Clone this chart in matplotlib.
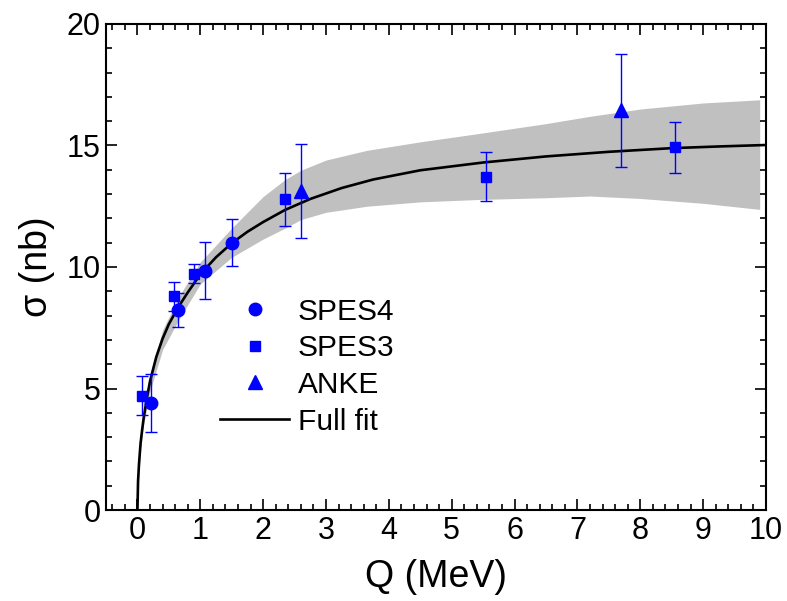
import matplotlib
matplotlib.use("Agg")
import matplotlib.pyplot as plt
from matplotlib.lines import Line2D
from matplotlib.ticker import MultipleLocator

plt.rcParams['font.family'] = ['Liberation Sans', 'DejaVu Sans']

# SPES4 (circles)
spes4_q = [0.21, 0.64, 1.07, 1.51]
spes4_s = [4.40, 8.25, 9.85, 11.00]
spes4_e = [1.20, 0.70, 1.17, 0.96]

# SPES3 (squares)
spes3_q = [0.08, 0.58, 0.90, 2.35, 5.54, 8.56]
spes3_s = [4.71, 8.80, 9.73, 12.78, 13.72, 14.92]
spes3_e = [0.80, 0.60, 0.40, 1.08, 1.00, 1.05]

# ANKE (triangles)
anke_q = [2.60, 7.69]
anke_s = [13.13, 16.45]
anke_e = [1.92, 2.32]

# Full fit curve
fit_q = [0, 0.01, 0.025, 0.05, 0.075, 0.1, 0.15, 0.2, 0.3, 0.4, 0.5, 0.65, 0.8,
         1.0, 1.25, 1.5, 1.75, 2.0, 2.35, 2.75, 3.25, 3.75, 4.5, 5.5, 6.5, 7.5,
         8.5, 9.25, 10.0]
fit_s = [0, 1.2, 1.9, 2.75, 3.3, 3.8, 4.6, 5.3, 6.3, 7.05, 7.65, 8.35, 8.95,
         9.7, 10.4, 10.98, 11.45, 11.85, 12.35, 12.8, 13.25, 13.6, 13.98, 14.3,
         14.55, 14.74, 14.89, 14.96, 15.02]

# Uncertainty band
band_q = [0, 0.02, 0.05, 0.1, 0.2, 0.4, 0.65, 1.0, 1.5, 2.0, 2.35, 2.6, 3.0,
          3.65, 4.5, 5.45, 6.5, 7.2, 8.0, 9.0, 9.9]
band_hi = [0, 1.7, 2.9, 4.05, 5.55, 7.4, 8.75, 10.2, 11.6, 12.9, 13.6, 13.98,
           14.4, 14.8, 15.15, 15.5, 15.9, 16.2, 16.5, 16.75, 16.88]
band_lo = [0, 1.3, 2.5, 3.55, 4.9, 6.6, 7.8, 9.3, 10.4, 11.15, 11.6, 11.95,
           12.25, 12.5, 12.68, 12.78, 12.85, 12.92, 12.82, 12.62, 12.37]

blue = '#0000ff'

fig = plt.figure(figsize=(7.87, 6.01), dpi=100)
ax = fig.add_axes([0.1347, 0.1514, 0.8386, 0.8087])

ax.fill_between(band_q, band_lo, band_hi, color='#c0c0c0', lw=0, zorder=1)
ax.plot(fit_q, fit_s, color='black', lw=1.9, zorder=3)

ekw = dict(ecolor=blue, elinewidth=1.0, capsize=4, capthick=1.0, ls='none',
           color=blue, zorder=4)
ax.errorbar(spes3_q, spes3_s, yerr=spes3_e, marker='s', ms=7.5, **ekw)
ax.errorbar(spes4_q, spes4_s, yerr=spes4_e, marker='o', ms=9, **ekw)
ax.errorbar(anke_q, anke_s, yerr=anke_e, marker='^', ms=9.5, **ekw)

ax.set_xlim(-0.5, 10)
ax.set_ylim(0, 20)
ax.xaxis.set_major_locator(MultipleLocator(1))
ax.xaxis.set_minor_locator(MultipleLocator(0.2))
ax.yaxis.set_major_locator(MultipleLocator(5))
ax.yaxis.set_minor_locator(MultipleLocator(1))
ax.tick_params(which='both', direction='in', top=True, right=True,
               labelsize=22, width=1.2)
ax.tick_params(axis='x', which='major', pad=4)
ax.tick_params(axis='y', which='major', pad=4)
ax.tick_params(which='major', length=8)
ax.tick_params(which='minor', length=4.5)
for s in ax.spines.values():
    s.set_linewidth(1.5)

ax.set_xlabel('Q (MeV)', fontsize=27, labelpad=10)
ax.set_ylabel('σ (nb)', fontsize=27, labelpad=8)

handles = [
    Line2D([], [], color=blue, marker='o', ls='none', ms=9),
    Line2D([], [], color=blue, marker='s', ls='none', ms=7.5),
    Line2D([], [], color=blue, marker='^', ls='none', ms=9.5),
    Line2D([], [], color='black', lw=1.9),
]
labels = ['SPES4', 'SPES3', 'ANKE', 'Full fit']
ax.legend(handles, labels, loc='upper left', bbox_to_anchor=(0.173, 0.437),
          frameon=False, fontsize=21.5, handlelength=2.3, handletextpad=0.3,
          labelspacing=0.29, borderpad=0, borderaxespad=0)

fig.savefig('out.png', dpi=100)
